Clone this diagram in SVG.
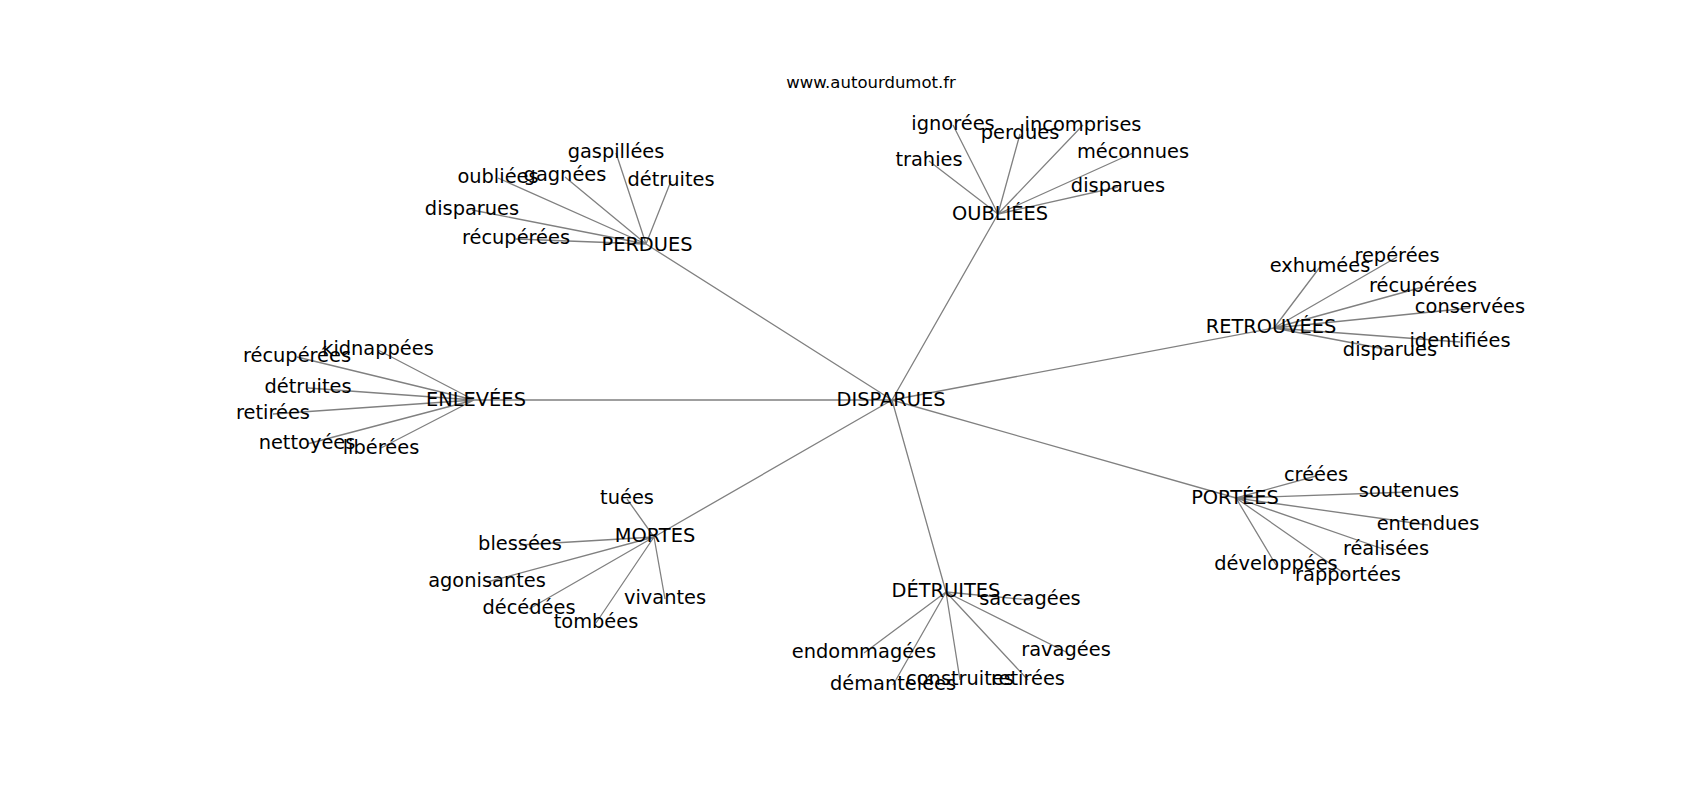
<svg xmlns="http://www.w3.org/2000/svg" width="1700" height="800" viewBox="0 0 1700 800">
<style>
.e{stroke:#808080;stroke-width:1.3;fill:none}
text{font-family:"DejaVu Sans","Liberation Sans",sans-serif;font-size:19.4px;fill:#000;text-anchor:middle}
.t{font-size:16.5px}
</style>
<rect width="1700" height="800" fill="#fff"/>
<text class="t" x="871" y="88">www.autourdumot.fr</text>
<g id="edges">
<path class="e" d="M892,400L646,244M892,400L998,214M892,400L1274,328M892,400L474,400M892,400L654,537M892,400L946,592M892,400L1236,498"/>
<path class="e" d="M646,244L616,153M646,244L498,178M646,244L565,177M646,244L671,181M646,244L472,210M646,244L516,239"/>
<path class="e" d="M998,214L953,125M998,214L929,161M998,214L1020,134M998,214L1083,125M998,214L1133,153M998,214L1118,187"/>
<path class="e" d="M1274,328L1320,267M1274,328L1397,257M1274,328L1423,287M1274,328L1470,308M1274,328L1460,342M1274,328L1390,350"/>
<path class="e" d="M474,400L378,350M474,400L297,357M474,400L308,388M474,400L273,414M474,400L307,444M474,400L381,448"/>
<path class="e" d="M654,537L627,499M654,537L520,545M654,537L487,582M654,537L529,609M654,537L596,623M654,537L665,599"/>
<path class="e" d="M946,592L1030,600M946,592L864,653M946,592L893,685M946,592L960,680M946,592L1028,680M946,592L1066,652"/>
<path class="e" d="M1236,498L1316,476M1236,498L1409,492M1236,498L1428,525M1236,498L1386,550M1236,498L1276,565M1236,498L1348,576"/>
</g>
<g id="disparues"><text x="891" y="406">DISPARUES</text></g>
<g id="perdues"><text x="647" y="251">PERDUES</text></g>
<g id="perdues-gaspillees"><text x="616" y="158">gaspillées</text></g>
<g id="perdues-oubliees"><text x="498" y="183">oubliées</text></g>
<g id="perdues-gagnees"><text x="565" y="181">gagnées</text></g>
<g id="perdues-detruites"><text x="671" y="186">détruites</text></g>
<g id="perdues-disparues"><text x="472" y="215">disparues</text></g>
<g id="perdues-recuperees"><text x="516" y="244">récupérées</text></g>
<g id="oubliees"><text x="1000" y="220">OUBLIÉES</text></g>
<g id="oubliees-ignorees"><text x="953" y="130">ignorées</text></g>
<g id="oubliees-trahies"><text x="929" y="166">trahies</text></g>
<g id="oubliees-perdues"><text x="1020" y="139">perdues</text></g>
<g id="oubliees-incomprises"><text x="1083" y="131">incomprises</text></g>
<g id="oubliees-meconnues"><text x="1133" y="158">méconnues</text></g>
<g id="oubliees-disparues"><text x="1118" y="192">disparues</text></g>
<g id="retrouvees"><text x="1271" y="333">RETROUVÉES</text></g>
<g id="retrouvees-exhumees"><text x="1320" y="272">exhumées</text></g>
<g id="retrouvees-reperees"><text x="1397" y="262">repérées</text></g>
<g id="retrouvees-recuperees"><text x="1423" y="292">récupérées</text></g>
<g id="retrouvees-conservees"><text x="1470" y="313">conservées</text></g>
<g id="retrouvees-identifiees"><text x="1460" y="347">identifiées</text></g>
<g id="retrouvees-disparues"><text x="1390" y="356">disparues</text></g>
<g id="enlevees"><text x="476" y="406">ENLEVÉES</text></g>
<g id="enlevees-kidnappees"><text x="378" y="355">kidnappées</text></g>
<g id="enlevees-recuperees"><text x="297" y="362">récupérées</text></g>
<g id="enlevees-detruites"><text x="308" y="393">détruites</text></g>
<g id="enlevees-retirees"><text x="273" y="419">retirées</text></g>
<g id="enlevees-nettoyees"><text x="307" y="449">nettoyées</text></g>
<g id="enlevees-liberees"><text x="381" y="454">libérées</text></g>
<g id="mortes"><text x="655" y="542">MORTES</text></g>
<g id="mortes-tuees"><text x="627" y="504">tuées</text></g>
<g id="mortes-blessees"><text x="520" y="550">blessées</text></g>
<g id="mortes-agonisantes"><text x="487" y="587">agonisantes</text></g>
<g id="mortes-decedees"><text x="529" y="614">décédées</text></g>
<g id="mortes-tombees"><text x="596" y="628">tombées</text></g>
<g id="mortes-vivantes"><text x="665" y="604">vivantes</text></g>
<g id="detruites"><text x="946" y="597">DÉTRUITES</text></g>
<g id="detruites-saccagees"><text x="1030" y="605">saccagées</text></g>
<g id="detruites-endommagees"><text x="864" y="658">endommagées</text></g>
<g id="detruites-demantelees"><text x="893" y="690">démantelées</text></g>
<g id="detruites-construites"><text x="960" y="685">construites</text></g>
<g id="detruites-retirees"><text x="1028" y="685">retirées</text></g>
<g id="detruites-ravagees"><text x="1066" y="656">ravagées</text></g>
<g id="portees"><text x="1235" y="504">PORTÉES</text></g>
<g id="portees-creees"><text x="1316" y="481">créées</text></g>
<g id="portees-soutenues"><text x="1409" y="497">soutenues</text></g>
<g id="portees-entendues"><text x="1428" y="530">entendues</text></g>
<g id="portees-realisees"><text x="1386" y="555">réalisées</text></g>
<g id="portees-developpees"><text x="1276" y="570">développées</text></g>
<g id="portees-rapportees"><text x="1348" y="581">rapportées</text></g>
</svg>
